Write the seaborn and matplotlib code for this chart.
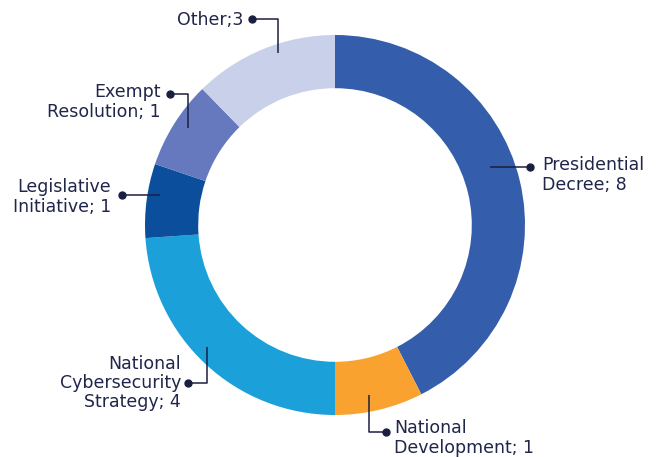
import seaborn as sns
import matplotlib.pyplot as plt

# data
labels = ["Presidential\nDecree; 8", "National\nDevelopment; 1", "National\nCybersecurity\nStrategy; 4",
          "Legislative\nInitiative; 1", "Exempt\nResolution; 1", "Other;3"]
# wedge shares as drawn in the picture (percent of the ring)
shares = [42.5, 7.5, 23.9, 6.3, 7.5, 12.3]
colors = ["#345EAB", "#F9A22F", "#1BA0DA", "#0B4F9C", "#6679BE", "#C9D1EA"]

sns.set_theme(style="white")
plt.rcParams['font.family'] = ['DejaVu Sans']

fig = plt.figure(figsize=(6.6, 4.57), dpi=100)
ax = fig.add_axes([0, 0, 1, 1])

R = 190.0
cx, cy = 335, 225


def p(x, y):
    # pixel -> data
    return (x - cx) / R, (cy - y) / R


ax.pie(shares, colors=colors, startangle=90, counterclock=False, radius=1,
       wedgeprops=dict(width=0.28, linewidth=0))

ink = "#1B1F3F"

# leader lines: (path in pixels, text pos, alignment)
leaders = [
    ([(490, 167), (530, 167)], (542, 175), "left"),
    ([(369, 395), (369, 432), (386, 432)], (394, 438), "left"),
    ([(207, 347), (207, 383), (188, 383)], (181, 383), "right"),
    ([(160, 195), (122, 195)], (111, 197), "right"),
    ([(188, 128), (188, 94), (170, 94)], (161, 102), "right"),
    ([(278, 53), (278, 19), (252, 19)], (243, 20), "right"),
]

for lab, (path, tpos, ha) in zip(labels, leaders):
    xs, ys = zip(*[p(*pt) for pt in path])
    ax.plot(xs, ys, color=ink, lw=1.1, solid_capstyle="butt")
    ax.plot(xs[-1], ys[-1], "o", color=ink, ms=5)
    tx, ty = p(*tpos)
    ax.text(tx, ty, lab, ha=ha, va="center", fontsize=12.5, color="#20254A",
            multialignment=ha, linespacing=1.1)

ax.set_xlim(-cx / R, (660 - cx) / R)
ax.set_ylim((cy - 457) / R, cy / R)
ax.set_aspect("equal")
ax.axis("off")

fig.savefig("out.png", dpi=100)
